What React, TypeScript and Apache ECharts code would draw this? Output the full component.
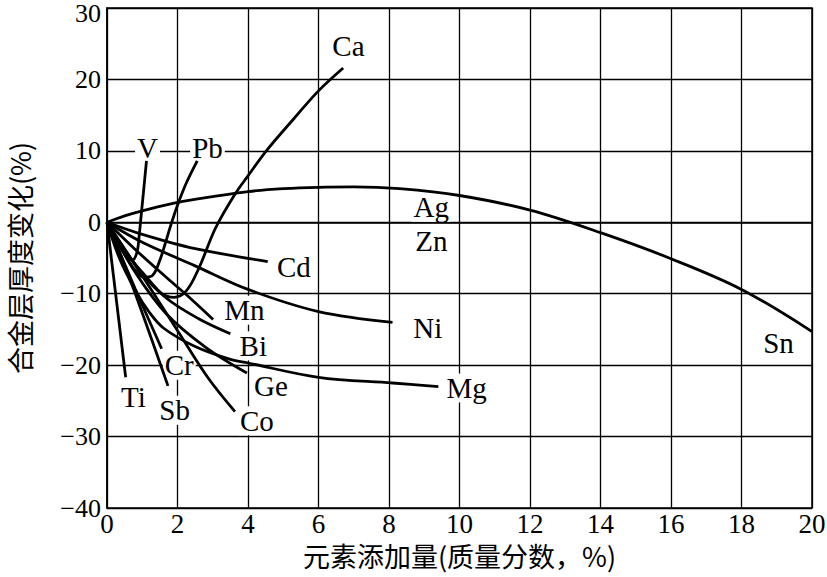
import React, { useEffect, useRef } from "react";
import * as echarts from "echarts";

// curves: [x (质量分数 %), y (合金层厚度变化 %)]
const agZnSn: number[][] = [[0, 0], [0.5, 0.9], [1, 1.6], [2, 2.8], [3, 3.6], [4, 4.3], [5, 4.7], [6, 4.9], [7, 4.95], [8.3, 4.7], [10, 3.75], [12, 1.7], [14, -1.45], [16, -5.1], [18, -9.4], [20, -15.3]];
const ca: number[][] = [[0, 0], [0.5, -3.8], [1, -7.2], [1.5, -9.8], [1.9, -10.5], [2.25, -9.6], [2.6, -6.5], [3.08, -0.8], [3.64, 4], [4, 6.5], [4.52, 10], [5.3, 14.5], [6, 18.4], [6.7, 21.6]];
const v: number[][] = [[0, 0], [0.3, -2.6], [0.55, -4.6], [0.72, -5.3], [0.85, -4.2], [0.91, -2], [0.95, 0], [1.03, 4], [1.12, 8.6]];
const pb: number[][] = [[0, 0], [0.4, -3.6], [0.75, -6.4], [1.05, -7.7], [1.3, -7.4], [1.5, -5.3], [1.65, -3], [1.81, -0.4], [2.0, 2.4], [2.25, 5.5], [2.56, 8.6]];
const cd: number[][] = [[0, 0], [1, -1.7], [2.5, -3.7], [4.56, -5.5]];
const ni: number[][] = [[0, 0], [1, -2.8], [2.5, -6.1], [4, -9.4], [6, -12.5], [8.1, -14]];
const mg: number[][] = [[0, 0], [0.35, -5], [0.8, -9.5], [1.2, -12.6], [1.6, -14.8], [2.5, -17.4], [3.5, -19.2], [4, -19.7], [6, -21.7], [8.1, -22.5], [9.4, -23]];
const mn: number[][] = [[0, 0], [0.8, -3.8], [1.68, -7.7], [2.4, -10.8], [3.01, -13.6]];
const bi: number[][] = [[0, 0], [0.5, -4], [1, -7], [1.68, -10.6], [2.6, -13.5], [3.5, -15.6]];
const ge: number[][] = [[0, 0], [0.8, -7], [1.68, -12.8], [2.8, -17.5], [3.97, -21.1]];
const co: number[][] = [[0, 0], [1, -7.5], [2.03, -15.4], [2.87, -21.8], [3.63, -26.5]];
const cr: number[][] = [[0, 0], [0.8, -9.3], [1.55, -17.7]];
const sb: number[][] = [[0, 0], [0.61, -7.4], [1.73, -22.9]];
const ti: number[][] = [[0, 0], [0.53, -21.7]];

const curves = [agZnSn, ca, v, pb, cd, ni, mg, mn, bi, ge, co, cr, sb, ti];

// curve labels
const labelNames = ["V", "Pb", "Ca", "Ag", "Zn", "Cd", "Ni", "Sn", "Mg", "Mn", "Bi", "Ge", "Co", "Cr", "Sb", "Ti"];
const labelX = [1.15, 2.85, 6.85, 9.2, 9.2, 5.3, 9.1, 19.05, 10.2, 3.9, 4.15, 4.65, 4.25, 2.05, 1.92, 0.75];
const labelY = [10.4, 10.4, 24.7, 2.1, -2.6, -6.2, -14.8, -16.9, -23.2, -12.3, -17.3, -22.9, -27.8, -20, -26.3, -24.4];

const xName = "元素添加量(质量分数，%)";
const yName = "合金层厚度变化(%)";

const serif = "'Liberation Serif', 'DejaVu Serif', serif";
const cjk = "'Noto Sans CJK SC', sans-serif";

export default function App() {
  const ref = useRef<HTMLDivElement>(null);
  useEffect(() => {
    if (!ref.current) return;
    const chart = echarts.init(ref.current, undefined, { renderer: "svg" });
    const lineSeries = curves.map((d) => ({
      type: "line",
      data: d,
      showSymbol: false,
      symbol: "none",
      smooth: 0.35,
      lineStyle: { color: "#000", width: 2.8 },
      z: 5,
    }));
    chart.setOption({
      animation: false,
      backgroundColor: "#fff",
      grid: {
        left: 107,
        right: 15,
        top: 8,
        bottom: 69,
        outerBoundsMode: "none",
        containLabel: false,
        show: true,
        borderColor: "#000",
        borderWidth: 1.5,
        backgroundColor: "transparent",
      },
      xAxis: {
        type: "value",
        min: 0,
        max: 20,
        interval: 2,
        axisLine: { show: true, lineStyle: { color: "#000", width: 1.5 } },
        axisTick: { show: false },
        splitLine: { show: true, lineStyle: { color: "#000", width: 1.3 } },
        axisLabel: { color: "#000", fontFamily: serif, fontSize: 27, margin: 2 },
        name: xName,
        nameLocation: "middle",
        nameGap: 32,
        nameTextStyle: { color: "#000", fontFamily: cjk, fontSize: 27 },
      },
      yAxis: {
        type: "value",
        min: -40,
        max: 30,
        interval: 10,
        axisLine: { show: true, lineStyle: { color: "#000", width: 1.5 } },
        axisTick: { show: false },
        splitLine: { show: true, lineStyle: { color: "#000", width: 1.3 } },
        axisLabel: {
          color: "#000",
          fontFamily: serif,
          fontSize: 26,
          margin: 6,
          formatter: (val: number) => (val === 30 ? "{t|30}" : String(val).replace("-", "\u2212")),
          rich: {
            t: { color: "#000", fontFamily: serif, fontSize: 26, padding: [10, 0, 0, 0] },
          },
        },
        name: yName,
        nameLocation: "middle",
        nameGap: 74,
        nameTextStyle: { color: "#000", fontFamily: cjk, fontSize: 27 },
      },
      series: [
        {
          type: "scatter",
          symbolSize: 1,
          itemStyle: { color: "rgba(0,0,0,0)", opacity: 1 },
          emphasis: { disabled: true },
          z: 2,
          data: labelNames.map((n, i) => ({ name: n, value: [labelX[i], labelY[i]] })),
          label: {
            show: true,
            position: "inside",
            formatter: (p: any) => p.name,
            color: "#000",
            opacity: 1,
            fontFamily: serif,
            fontSize: 29,
            backgroundColor: "#fff",
            padding: [0, 2],
          },
        },
        ...lineSeries,
      ],
    });
    return () => chart.dispose();
  }, []);
  return <div ref={ref} style={{ position: "fixed", left: 0, top: 0, width: 827, height: 577 }} />;
}
